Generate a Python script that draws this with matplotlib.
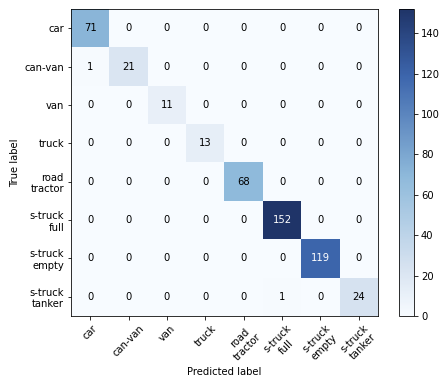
import matplotlib
matplotlib.use("Agg")
import matplotlib.pyplot as plt
from matplotlib.colors import LinearSegmentedColormap
import numpy as np

classes = ["car", "can-van", "van", "truck", "road\ntractor",
           "s-truck\nfull", "s-truck\nempty", "s-truck\ntanker"]
cm = np.array([
    [71, 0, 0, 0, 0, 0, 0, 0],
    [1, 21, 0, 0, 0, 0, 0, 0],
    [0, 0, 11, 0, 0, 0, 0, 0],
    [0, 0, 0, 13, 0, 0, 0, 0],
    [0, 0, 0, 0, 68, 0, 0, 0],
    [0, 0, 0, 0, 0, 152, 0, 0],
    [0, 0, 0, 0, 0, 0, 119, 0],
    [0, 0, 0, 0, 0, 1, 0, 24],
])

# blues as they came out in the picture (a bit washed, navy at top)
cmap = LinearSegmentedColormap.from_list("blues_soft", [
    (0.0, "#f7fbff"), (0.16, "#d6e2f0"), (0.45, "#8fbadb"),
    (0.78, "#3d66ad"), (1.0, "#1f3468")])

dpi = 72
fig = plt.figure(figsize=(443 / dpi, 379 / dpi), dpi=dpi)
ax = fig.add_axes([71 / 443, 1 - 316 / 379, 307 / 443, 307 / 379])
cax = fig.add_axes([399 / 443, 1 - 316 / 379, 15 / 443, 307 / 379])

im = ax.imshow(cm, interpolation="nearest", cmap=cmap)
cb = fig.colorbar(im, cax=cax)
cb.set_ticks(np.arange(0, 141, 20))

ticks = np.arange(len(classes))
ax.set_xticks(ticks)
ax.set_xticklabels(classes, rotation=45)
ax.set_yticks(ticks)
ax.set_yticklabels(classes)

# numbers in cells, white on dark ones
thresh = cm.max() / 2.
for i in range(cm.shape[0]):
    for j in range(cm.shape[1]):
        ax.text(j, i, format(cm[i, j], "d"), ha="center", va="center",
                color="white" if cm[i, j] > thresh else "black")

ax.set_ylabel("True label")
ax.set_xlabel("Predicted label")

fig.savefig("out.png", dpi=dpi)
